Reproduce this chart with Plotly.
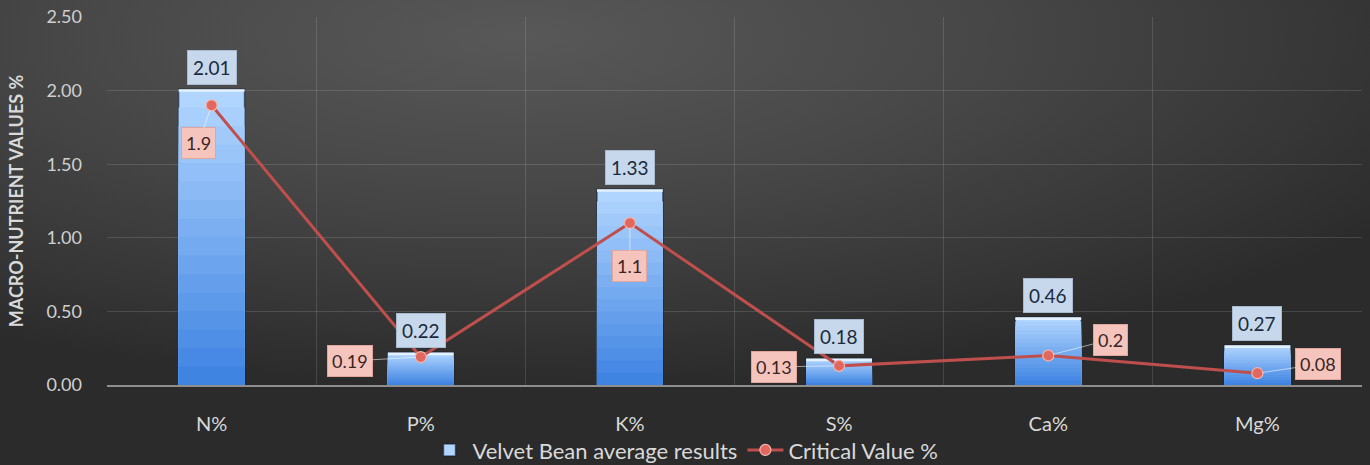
import base64
import plotly.graph_objects as go

categories = ["N%", "P%", "K%", "S%", "Ca%", "Mg%"]
bean_values = [2.01, 0.22, 1.33, 0.18, 0.46, 0.27]
critical_values = [1.9, 0.19, 1.1, 0.13, 0.2, 0.08]
bar_label_text = ["2.01", "0.22", "1.33", "0.18", "0.46", "0.27"]
crit_label_text = ["1.9", "0.19", "1.1", "0.13", "0.2", "0.08"]
# pixel offsets of the critical value labels relative to their points
crit_label_dx = [-13, -71, 0, -65, 62, 61]
crit_label_dy = [38, 4, 43, 1, -16, -9]

W, H = 1370, 465
ML, MR, MT, MB = 107, 8, 17, 80
PW, PH = W - ML - MR, H - MT - MB

# background gradient as an SVG image
svg = f'''<svg xmlns="http://www.w3.org/2000/svg" width="{W}" height="{H}" viewBox="0 0 {W} {H}" preserveAspectRatio="none">
<defs><radialGradient id="g" cx="0.38" cy="0.08" r="0.75" fx="0.38" fy="0.08">
<stop offset="0" stop-color="#585858"/><stop offset="0.45" stop-color="#474747"/>
<stop offset="0.8" stop-color="#363636"/><stop offset="1" stop-color="#2b2b2b"/></radialGradient></defs>
<rect x="0" y="0" width="{W}" height="{H}" fill="url(#g)"/></svg>'''
bg_uri = "data:image/svg+xml;base64," + base64.b64encode(svg.encode()).decode()

fig = go.Figure()

# bar with stepped gradient (light top -> darker blue bottom)
light = (176, 213, 255)
dark = (64, 132, 226)
n_steps = 16
BAR_W = 0.315
for k in range(n_steps):
    t = k / (n_steps - 1)
    c = tuple(round(light[i] + (dark[i] - light[i]) * t) for i in range(3))
    frac = 1 - k / n_steps
    fig.add_trace(go.Bar(
        x=categories,
        y=[v * frac for v in bean_values],
        width=BAR_W,
        marker=dict(color=f"rgb{c}",
                    line=dict(color="rgba(15,25,45,0.55)" if k == 0 else "rgba(0,0,0,0)",
                              width=1.5 if k == 0 else 0)),
        name="Velvet Bean average results",
        showlegend=(k == 0),
        hoverinfo="skip" if k else None,
    ))
# bright highlight strip at top of bars
cap = 0.018
fig.add_trace(go.Bar(
    x=categories, y=[cap] * len(bean_values), base=[v - cap for v in bean_values],
    width=BAR_W, marker=dict(color="#e4f2ff", line=dict(width=0)),
    showlegend=False, hoverinfo="skip",
))

fig.add_trace(go.Scatter(
    x=categories, y=critical_values, mode="lines+markers",
    name="Critical Value %",
    line=dict(color="#bf4f4c", width=3),
    marker=dict(symbol="circle", size=11, color="#e0685e",
                line=dict(color="#f5b5ad", width=1.2)),
))

annotations = []
for cat, v, txt in zip(categories, bean_values, bar_label_text):
    annotations.append(dict(
        x=cat, y=v, text=txt, showarrow=False, yshift=22,
        bgcolor="#c7d8ec", bordercolor="#a7bad0", borderwidth=1, borderpad=5,
        font=dict(family="Lato", size=19, color="#1b2a3c"),
    ))
for cat, v, txt, dx, dy in zip(categories, critical_values, crit_label_text, crit_label_dx, crit_label_dy):
    annotations.append(dict(
        x=cat, y=v, text=txt, showarrow=True, ax=dx, ay=dy,
        arrowhead=0, arrowwidth=1, arrowcolor="rgba(255,255,255,0.55)", standoff=5,
        bgcolor="#f5c4bd", bordercolor="#e0a59d", borderwidth=1, borderpad=4,
        font=dict(family="Lato", size=18, color="#3a2424"),
    ))

fig.update_layout(
    width=W, height=H,
    margin=dict(l=ML, r=MR, t=MT, b=MB, autoexpand=False),
    paper_bgcolor="#3a3a3a",
    plot_bgcolor="rgba(0,0,0,0)",
    barmode="overlay",
    font=dict(family="Lato", color="#d9d9d9"),
    images=[dict(source=bg_uri, xref="paper", yref="paper",
                 x=-ML / PW, y=1 + MT / PH, sizex=W / PW, sizey=H / PH,
                 xanchor="left", yanchor="top", sizing="stretch", layer="below")],
    annotations=annotations,
    legend=dict(orientation="h", xref="container", yref="container",
                x=0.5, xanchor="center", y=0.032, yanchor="middle",
                font=dict(family="Lato", size=22, color="#d9d9d9"),
                bgcolor="rgba(0,0,0,0)", itemwidth=36),
    showlegend=True,
)
fig.update_xaxes(
    type="category", range=[-0.5, 5.5],
    tickson="boundaries", ticks="", showgrid=True,
    gridcolor="rgba(255,255,255,0.13)", gridwidth=1,
    showline=True, linecolor="#8e8e8e", linewidth=2,
    tickfont=dict(family="Lato", size=20, color="#d9d9d9"),
    ticklabelstandoff=20,
)
fig.update_yaxes(
    range=[0, 2.5], dtick=0.5, tickformat=".2f",
    showgrid=True, gridcolor="rgba(255,255,255,0.13)", gridwidth=1,
    zeroline=False, showline=False, ticks="",
    tickfont=dict(family="Lato", size=18, color="#d0d0d0"),
    ticklabelstandoff=24,
    title=dict(text="<b>MACRO-NUTRIENT VALUES %</b>",
               font=dict(family="Lato", size=18, color="#d9d9d9"), standoff=18),
)

fig.write_html("out.html")
